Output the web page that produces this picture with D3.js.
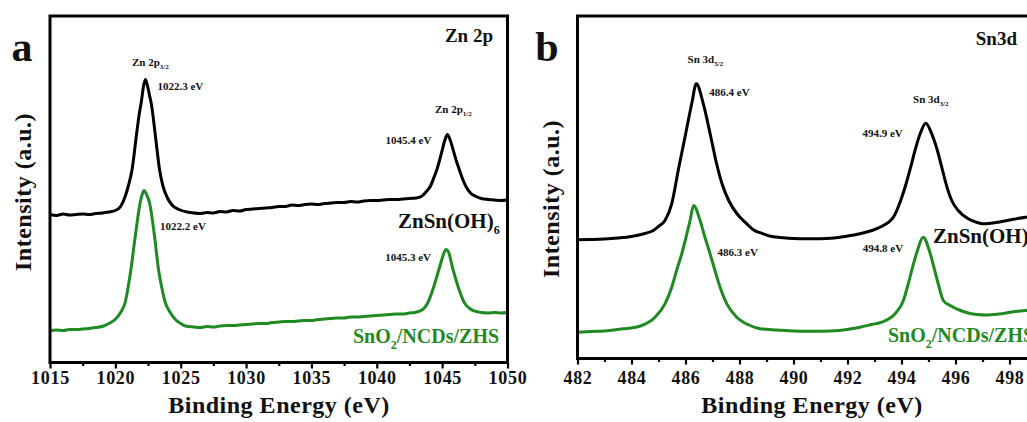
<!DOCTYPE html>
<html>
<head>
<meta charset="utf-8">
<script src="https://cdn.jsdelivr.net/npm/d3@7"></script>
</head>
<body style="margin:0;background:#fff">
<svg id="chart" width="1027" height="422" style="display:block"></svg>
<script>
// ---- Zn 2p spectra: [binding energy (eV), intensity (a.u.)] ----
const zn2pZHS = [
  [1015,148],[1015.5,147],[1016,148.5],[1016.5,147.5],[1017,148],[1017.5,148.5],[1018,148],[1018.5,149],
  [1019,149.5],[1019.5,150.5],[1020,152],[1020.4,156],[1020.75,166],[1021,177],[1021.28,193],[1021.6,226],
  [1021.8,246],[1022.0,262],[1022.15,276],[1022.3,283],[1022.45,277],[1022.6,268],[1022.76,258],[1023.07,226],
  [1023.38,193],[1023.65,176],[1023.97,165],[1024.3,158],[1024.87,153],[1025.5,150.5],[1026,149.5],[1026.5,149],
  [1027,150],[1027.5,149.5],[1028,151],[1028.5,150.5],[1029,152],[1029.5,151.5],[1030,153],[1030.5,153.5],
  [1031,154],[1031.5,154.5],[1032,155],[1032.5,156],[1033,156],[1033.5,157.5],[1034,157],[1034.5,158],
  [1035,158.5],[1035.5,158],[1036,159],[1036.5,159.5],[1037,160],[1037.5,160],[1038,161],[1038.5,160.5],
  [1039,161.5],[1039.5,162],[1040,162],[1040.5,162.5],[1041,163],[1041.5,163],[1042,163.5],[1042.5,164],
  [1043,164.5],[1043.4,166],[1043.8,171],[1044.09,176],[1044.4,186],[1044.6,193],[1044.8,202],[1044.96,210],
  [1045.2,222],[1045.4,228],[1045.6,223],[1045.9,210],[1046.1,201],[1046.31,193],[1046.55,184],[1046.82,176],
  [1047.2,169],[1047.6,166],[1048,164],[1048.5,163],[1049,162.5],[1049.5,162],[1050,162.5]
];
const zn2pComposite = [
  [1015,32],[1015.5,32.5],[1016,32],[1016.5,33],[1017,33],[1017.5,33.5],[1018,34],[1018.5,35],
  [1019.1,36.5],[1019.5,39],[1019.98,43],[1020.4,50],[1020.75,60],[1021,77],[1021.19,93],[1021.52,126],
  [1021.9,160],[1022.05,168],[1022.2,172],[1022.35,169],[1022.61,160],[1023.0,126],[1023.3,93],[1023.55,75],
  [1023.82,60],[1024.2,50],[1024.59,43],[1025.0,39],[1025.35,36.5],[1026,35.5],[1026.5,35],[1027,36],
  [1027.5,35.5],[1028,36.5],[1028.5,37],[1029,37],[1029.5,37.5],[1030,38],[1030.5,38.5],[1031,39],
  [1031.5,39],[1032,40],[1032.5,40.5],[1033,41],[1033.5,41],[1034,41.5],[1034.5,42],[1035,42],
  [1035.5,43],[1036,43.5],[1036.5,44],[1037,44.5],[1037.5,44.5],[1038,45.5],[1038.5,45.5],[1039,46],
  [1039.5,46.5],[1040,47],[1040.5,47.5],[1041,48],[1041.5,48.5],[1042,48.5],[1042.5,49.5],[1042.9,50],
  [1043.27,51.3],[1043.6,54],[1043.9,59.7],[1044.37,76.3],[1044.75,93],[1045.0,104],[1045.15,110],[1045.3,113],
  [1045.5,110],[1045.83,93],[1046.21,76.3],[1046.7,59.7],[1047.1,54],[1047.5,51.3],[1048,50],[1048.5,49.5],
  [1049,50],[1049.5,49.5],[1050,50]
];

// ---- Sn 3d spectra ----
const sn3dZHS = [
  [482,118.7],[482.5,119],[483,119.5],[483.5,120.5],[484,122],[484.5,125],[484.81,128],[485.0,132],
  [485.24,138],[485.49,154.7],[485.73,188],[485.98,221.3],[486.23,254.7],[486.4,274.7],[486.66,254.7],[486.94,221.3],
  [487.15,195],[487.35,175],[487.6,158],[487.9,145],[488.27,134.7],[488.5,129],[488.88,124.7],[489.2,122],
  [489.62,120.7],[490,120],[490.5,119.7],[491,119.7],[491.5,120.5],[491.9,122],[492.46,124.7],[492.9,128],
  [493.2,131.3],[493.7,141.3],[493.97,158],[494.17,174.7],[494.34,191.3],[494.5,208],[494.69,224.7],[494.9,235.3],
  [495.12,224.7],[495.33,208],[495.49,191.3],[495.65,174.7],[495.86,158],[496.1,148],[496.47,139.7],[496.8,136],
  [497.03,134.7],[497.5,136],[498,138.5],[498.6,141.3],[499,142.5],[499.5,144],[500,145]
];
const sn3dComposite = [
  [482,26.3],[482.5,27],[483,27.5],[483.7,29.7],[484.1,31],[484.38,33],[484.87,41.3],[485.24,54.7],
  [485.49,71.3],[485.67,88],[485.86,104.7],[486.02,121.3],[486.17,138],[486.3,153],[486.54,138],[486.72,121.3],
  [486.91,104.7],[487.09,88],[487.28,71.3],[487.53,54.7],[487.9,41.3],[488.39,33],[488.76,29.7],[489.4,28.5],
  [490,27.5],[490.5,27.3],[491,27.3],[491.7,28],[492.1,29.5],[492.46,31.3],[492.9,34],[493.27,36.3],
  [493.76,44.7],[494.07,58],[494.25,74.7],[494.41,91.3],[494.59,108],[494.8,121.3],[495.03,108],[495.2,91.3],
  [495.36,74.7],[495.55,58],[495.8,53],[496.1,49],[496.4,46],[496.8,44],[497.15,43.5],[497.6,44.5],
  [498.1,46.5],[498.6,48],[499,49],[499.5,50],[500,51]
];

// ---- tick values ----
const znMajorTicks = [1015, 1020, 1025, 1030, 1035, 1040, 1045, 1050];
const znMinorTicks = [1017.5, 1022.5, 1027.5, 1032.5, 1037.5, 1042.5, 1047.5];
const snMajorTicks = [482, 484, 486, 488, 490, 492, 494, 496, 498, 500];
const snMinorTicks = [483, 485, 487, 489, 491, 493, 495, 497, 499];

// ---- peak annotations: [energy, intensity] taken from the traces above ----
const znPeaks = [
  { e: 1022.3, i: 283, label: "1022.3 eV" },
  { e: 1045.4, i: 228, label: "1045.4 eV" },
  { e: 1022.2, i: 172, label: "1022.2 eV" },
  { e: 1045.3, i: 113, label: "1045.3 eV" }
];
const snPeaks = [
  { e: 486.4, i: 274.7, label: "486.4 eV" },
  { e: 494.9, i: 235.3, label: "494.9 eV" },
  { e: 486.3, i: 153, label: "486.3 eV" },
  { e: 494.8, i: 121.3, label: "494.8 eV" }
];

const GREEN = "#1f8a22";
const FONT = "Liberation Serif";
const svg = d3.select("#chart");
svg.append("rect").attr("width", 1027).attr("height", 422).attr("fill", "#fff");

function styleText(sel, size, color, spacing) {
  return sel.style("font-family", FONT).attr("font-weight", "bold")
    .attr("font-size", size).attr("letter-spacing", spacing || 0).style("fill", color || "#111");
}

// text with sub-scripted parts: parts = [[str, isSub], ...]
function richText(g, x, y, parts, size, subSize, subDrop, anchor, color) {
  const t = styleText(g.append("text"), size, color).attr("x", x).attr("y", y)
    .attr("text-anchor", anchor || "start");
  let lowered = false;
  parts.forEach(([s, sub]) => {
    const ts = t.append("tspan").text(s);
    if (sub && !lowered) { ts.attr("dy", subDrop).attr("font-size", subSize); lowered = true; }
    else if (!sub && lowered) { ts.attr("dy", -subDrop).attr("font-size", size); lowered = false; }
    else if (sub) ts.attr("font-size", subSize);
  });
  return t;
}

function drawPanel(cfg) {
  const g = svg.append("g");
  const x = d3.scaleLinear().domain(cfg.xDomain).range(cfg.xRange);
  const y = d3.scaleLinear().domain(cfg.yDomain).range(cfg.yRange);
  const line = d3.line().x(d => x(d[0])).y(d => y(d[1])).curve(d3.curveMonotoneX);

  // spectra
  g.append("path").datum(cfg.top).attr("d", line)
    .attr("fill", "none").attr("stroke", "#000").attr("stroke-width", 3).attr("stroke-linejoin", "round");
  g.append("path").datum(cfg.bottom).attr("d", line)
    .attr("fill", "none").attr("stroke", GREEN).attr("stroke-width", 3).attr("stroke-linejoin", "round");

  // bottom axis: major ticks with labels, minor ticks without
  const axisY = cfg.yRange[0];
  const major = g.append("g").attr("transform", `translate(0,${axisY})`)
    .call(d3.axisBottom(x).tickValues(cfg.major).tickSize(6).tickPadding(cfg.tickPad).tickFormat(d3.format("d")));
  major.select(".domain").remove();
  major.attr("font-family", null).attr("font-size", null);
  major.selectAll(".tick line").attr("stroke", "#000").attr("stroke-width", 2.2);
  styleText(major.selectAll(".tick text"), 18, "#111", 0.7);
  const minor = g.append("g").attr("transform", `translate(0,${axisY})`)
    .call(d3.axisBottom(x).tickValues(cfg.minor).tickSize(3.5).tickFormat(""));
  minor.select(".domain").remove();
  minor.selectAll(".tick line").attr("stroke", "#000").attr("stroke-width", 2.2);

  // frame
  g.append("rect")
    .attr("x", cfg.xRange[0]).attr("y", cfg.yRange[1])
    .attr("width", cfg.xRange[1] - cfg.xRange[0]).attr("height", cfg.yRange[0] - cfg.yRange[1])
    .attr("fill", "none").attr("stroke", "#000").attr("stroke-width", 3);

  // axis titles
  styleText(g.append("text"), 24, "#111", 0.5).attr("x", cfg.xTitleX).attr("y", 413).attr("text-anchor", "middle")
    .text("Binding Energy (eV)");
  styleText(g.append("text"), 24, "#111", 0.5).attr("transform", `translate(${cfg.yTitleX},${cfg.yTitleY}) rotate(-90)`)
    .attr("text-anchor", "middle").text("Intensity (a.u.)");

  // panel letter and core-level title
  styleText(g.append("text"), 42).attr("x", cfg.letterX).attr("y", 61).attr("text-anchor", "middle")
    .text(cfg.letter);
  styleText(g.append("text"), 19).attr("x", cfg.titleX).attr("y", cfg.titleY).attr("text-anchor", "end")
    .text(cfg.title);

  // peak position labels
  cfg.peaks.forEach((p, k) => {
    const o = cfg.peakOffsets[k];
    styleText(g.append("text"), 11).attr("x", x(p.e) + o[0]).attr("y", y(p.i) + o[1])
      .attr("text-anchor", o[2]).text(p.label);
  });
  // orbital labels above the ZHS peaks
  cfg.orbitals.forEach((ob) => {
    const p = cfg.peaks[ob.peak];
    richText(g, x(p.e) + ob.dx, y(p.i) + ob.dy, ob.parts, 11, 7, 3, "middle");
  });

  // sample labels
  richText(g, cfg.zhsLabel[0], cfg.zhsLabel[1], [["ZnSn(OH)", false], ["6", true]], 21, 12, 6, "start");
  richText(g, cfg.compLabel[0], cfg.compLabel[1], [["SnO", false], ["2", true], ["/NCDs/ZHS", false]], 20, 12, 6, "start", GREEN);
}

drawPanel({
  xDomain: [1015, 1050], xRange: [50, 507.5],
  yDomain: [0, 346.5], yRange: [362.5, 16],
  top: zn2pZHS, bottom: zn2pComposite,
  major: znMajorTicks, minor: znMinorTicks, tickPad: 3,
  xTitleX: 279, yTitleX: 31, yTitleY: 192,
  letter: "a", letterX: 22, title: "Zn 2p", titleX: 493, titleY: 42,
  peaks: znPeaks,
  peakOffsets: [[12, 10, "start"], [-16, 9, "end"], [16, 39, "start"], [-15, 11, "end"]],
  orbitals: [
    { peak: 0, dx: 5, dy: -14, parts: [["Zn 2p", false], ["3/2", true]] },
    { peak: 1, dx: 6, dy: -22, parts: [["Zn 2p", false], ["1/2", true]] }
  ],
  zhsLabel: [398, 228], compLabel: [353, 343]
});

drawPanel({
  xDomain: [482, 500], xRange: [577.5, 1063.5],
  yDomain: [0, 342.5], yRange: [358.5, 16],
  top: sn3dZHS, bottom: sn3dComposite,
  major: snMajorTicks, minor: snMinorTicks, tickPad: 7,
  xTitleX: 812, yTitleX: 559, yTitleY: 199,
  letter: "b", letterX: 547, title: "Sn3d", titleX: 1017, titleY: 45,
  peaks: snPeaks,
  peakOffsets: [[13, 12, "start"], [-23, 14, "end"], [24, 50, "start"], [-20, 15, "end"]],
  orbitals: [
    { peak: 0, dx: 9, dy: -21, parts: [["Sn 3d", false], ["5/2", true]] },
    { peak: 1, dx: 5, dy: -20, parts: [["Sn 3d", false], ["3/2", true]] }
  ],
  zhsLabel: [933, 243], compLabel: [888, 342]
});
</script>
</body>
</html>
